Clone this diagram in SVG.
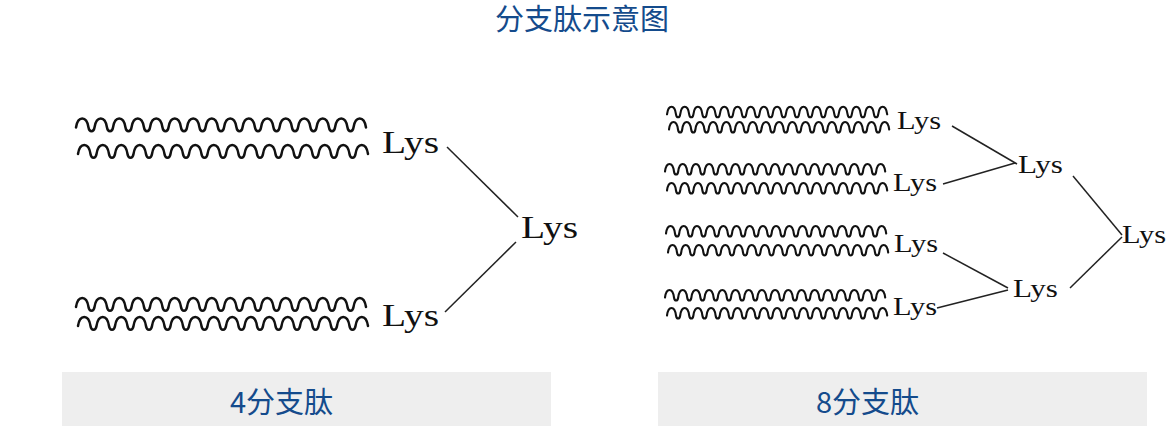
<svg xmlns="http://www.w3.org/2000/svg" xmlns:xlink="http://www.w3.org/1999/xlink" width="1168" height="427" viewBox="0 0 1168 427">
<style>
.title{font-family:"Noto Sans CJK SC","Noto Sans",sans-serif;fill:#144b8c;text-anchor:middle}
.lys{font-family:"Liberation Serif","Times New Roman",serif;fill:#111}
.wave{fill:none;stroke:#111;stroke-linecap:round;stroke-linejoin:round}
.wl{stroke-width:2.5}
.wr{stroke-width:2.1}
.conn line{stroke:#222;stroke-width:1.5}
.box{fill:#eeeeee}
</style>
<defs>
<path id="wL" class="wave wl" d="M0,0 c1.8,-12 10.7,-12 12.5,0 c0.8,5 5.2,5 6,0 c1.8,-12 10.7,-12 12.5,0 c0.8,5 5.2,5 6,0 c1.8,-12 10.7,-12 12.5,0 c0.8,5 5.2,5 6,0 c1.8,-12 10.7,-12 12.5,0 c0.8,5 5.2,5 6,0 c1.8,-12 10.7,-12 12.5,0 c0.8,5 5.2,5 6,0 c1.8,-12 10.7,-12 12.5,0 c0.8,5 5.2,5 6,0 c1.8,-12 10.7,-12 12.5,0 c0.8,5 5.2,5 6,0 c1.8,-12 10.7,-12 12.5,0 c0.8,5 5.2,5 6,0 c1.8,-12 10.7,-12 12.5,0 c0.8,5 5.2,5 6,0 c1.8,-12 10.7,-12 12.5,0 c0.8,5 5.2,5 6,0 c1.8,-12 10.7,-12 12.5,0 c0.8,5 5.2,5 6,0 c1.8,-12 10.7,-12 12.5,0 c0.8,5 5.2,5 6,0 c1.8,-12 10.7,-12 12.5,0 c0.8,5 5.2,5 6,0 c1.8,-12 10.7,-12 12.5,0 c0.8,5 5.2,5 6,0 c1.8,-12 10.7,-12 12.5,0 c0.8,5 5.2,5 6,0 c1.8,-12 10.7,-12 12.5,0"/>
<path id="wR" class="wave wr" d="M0,0 c1.3,-10 7.7,-10 9,0 c0.6,4 3.6,4 4.2,0 c1.3,-10 7.7,-10 9,0 c0.6,4 3.6,4 4.2,0 c1.3,-10 7.7,-10 9,0 c0.6,4 3.6,4 4.2,0 c1.3,-10 7.7,-10 9,0 c0.6,4 3.6,4 4.2,0 c1.3,-10 7.7,-10 9,0 c0.6,4 3.6,4 4.2,0 c1.3,-10 7.7,-10 9,0 c0.6,4 3.6,4 4.2,0 c1.3,-10 7.7,-10 9,0 c0.6,4 3.6,4 4.2,0 c1.3,-10 7.7,-10 9,0 c0.6,4 3.6,4 4.2,0 c1.3,-10 7.7,-10 9,0 c0.6,4 3.6,4 4.2,0 c1.3,-10 7.7,-10 9,0 c0.6,4 3.6,4 4.2,0 c1.3,-10 7.7,-10 9,0 c0.6,4 3.6,4 4.2,0 c1.3,-10 7.7,-10 9,0 c0.6,4 3.6,4 4.2,0 c1.3,-10 7.7,-10 9,0 c0.6,4 3.6,4 4.2,0 c1.3,-10 7.7,-10 9,0 c0.6,4 3.6,4 4.2,0 c1.3,-10 7.7,-10 9,0 c0.6,4 3.6,4 4.2,0 c1.3,-10 7.7,-10 9,0 c0.6,4 3.6,4 4.2,0 c1.3,-10 7.7,-10 9,0"/>
</defs>
<rect width="1168" height="427" fill="#ffffff"/>
<g id="title"><text class="title" x="582" y="30" font-size="29">分支肽示意图</text></g>

<g id="connectors" class="conn">
<line x1="447" y1="147" x2="518" y2="217"/>
<line x1="516" y1="242" x2="445" y2="312"/>
<line x1="952" y1="126" x2="1017" y2="164"/>
<line x1="943" y1="184" x2="1015" y2="163"/>
<line x1="943" y1="253" x2="1008" y2="288"/>
<line x1="937" y1="308" x2="1008" y2="290"/>
<line x1="1073" y1="176" x2="1122" y2="235"/>
<line x1="1070" y1="288" x2="1122" y2="237"/>
</g>

<g id="left-chain-top">
<use xlink:href="#wL" x="76" y="127.5"/>
<use xlink:href="#wL" x="78" y="154"/>
<text class="lys" x="382" y="153" font-size="32" textLength="57" lengthAdjust="spacingAndGlyphs">Lys</text>
</g>
<g id="left-chain-bottom">
<use xlink:href="#wL" x="76" y="307"/>
<use xlink:href="#wL" x="78" y="326"/>
<text class="lys" x="382" y="326" font-size="32" textLength="57" lengthAdjust="spacingAndGlyphs">Lys</text>
</g>
<g id="left-core">
<text class="lys" x="521" y="238" font-size="32" textLength="57" lengthAdjust="spacingAndGlyphs">Lys</text>
</g>

<g id="right-chain-1">
<use xlink:href="#wR" x="667" y="114.3"/>
<use xlink:href="#wR" x="669" y="129.5"/>
<text class="lys" x="897" y="129" font-size="26" textLength="44" lengthAdjust="spacingAndGlyphs">Lys</text>
</g>
<g id="right-chain-2">
<use xlink:href="#wR" x="665" y="171.5"/>
<use xlink:href="#wR" x="667" y="190.5"/>
<text class="lys" x="893" y="190.5" font-size="26" textLength="44" lengthAdjust="spacingAndGlyphs">Lys</text>
</g>
<g id="right-chain-3">
<use xlink:href="#wR" x="666" y="233.5"/>
<use xlink:href="#wR" x="668" y="252.5"/>
<text class="lys" x="894" y="252" font-size="26" textLength="44" lengthAdjust="spacingAndGlyphs">Lys</text>
</g>
<g id="right-chain-4">
<use xlink:href="#wR" x="665" y="297.5"/>
<use xlink:href="#wR" x="667" y="315.5"/>
<text class="lys" x="893" y="315" font-size="26" textLength="44" lengthAdjust="spacingAndGlyphs">Lys</text>
</g>
<g id="right-lys-upper"><text class="lys" x="1018" y="173" font-size="26" textLength="45" lengthAdjust="spacingAndGlyphs">Lys</text></g>
<g id="right-lys-lower"><text class="lys" x="1013" y="297" font-size="26" textLength="45" lengthAdjust="spacingAndGlyphs">Lys</text></g>
<g id="right-lys-core"><text class="lys" x="1122" y="243" font-size="26" textLength="44" lengthAdjust="spacingAndGlyphs">Lys</text></g>

<g id="label-4">
<rect class="box" x="62" y="372" width="489" height="54"/>
<text class="title" x="281.5" y="413" font-size="29">4分支肽</text>
</g>
<g id="label-8">
<rect class="box" x="658" y="372" width="489" height="54"/>
<text class="title" x="867.5" y="413" font-size="29">8分支肽</text>
</g>
</svg>
